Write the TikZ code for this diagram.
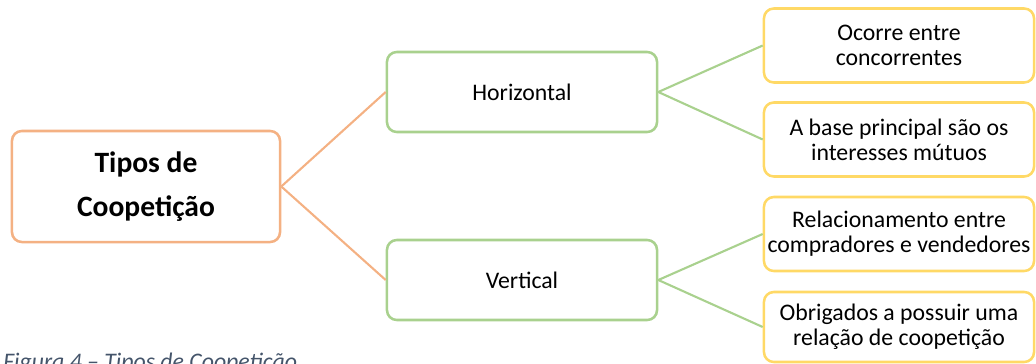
\documentclass[tikz,border=0pt]{standalone}
\usepackage{fontspec}
\setmainfont{Carlito}
\usepackage{xcolor}
\usetikzlibrary{positioning}
\definecolor{orangeline}{HTML}{F4B183}
\definecolor{greenline}{HTML}{A9D18E}
\definecolor{yellowline}{HTML}{FFD966}
\definecolor{captiongrey}{HTML}{44546A}

\begin{document}
\begin{tikzpicture}[x=0.025cm,y=0.025cm,
    rootbox/.style={draw=orangeline, line width=1.8pt, rounded corners=7pt, fill=white,
      minimum width=6.7cm, minimum height=2.775cm, align=center,
      font=\fontsize{21}{31}\selectfont\bfseries},
    typebox/.style={draw=greenline, line width=1.8pt, rounded corners=7pt, fill=white,
      minimum width=6.75cm, minimum height=2cm, align=center,
      font=\fontsize{16.9}{18}\selectfont},
    notebox/.style={draw=yellowline, line width=1.8pt, rounded corners=7pt, fill=white,
      minimum width=6.75cm, minimum height=1.85cm, inner sep=1pt, align=center,
      font=\fontsize{16.9}{17.8}\selectfont},
    rootlink/.style={orangeline, line width=1.5pt},
    typelink/.style={greenline, line width=1.5pt}]
      \useasboundingbox (0,0) rectangle (1036,363);
      \node[rootbox] (tipos) at (146,176.5) {Tipos de\\Coopetição};
      \node[typebox] (horiz) at (522,271) {Horizontal};
      \node[typebox] (vert) at (522,83) {Vertical};
      \node[notebox] (ocorre) at (899,317.5) {Ocorre entre\\concorrentes};
      \node[notebox] (base) at (899,223.5) {A base principal são os\\interesses mútuos};
      \node[notebox] (relac) at (899,129) {Relacionamento entre\\compradores e vendedores};
      \node[notebox, minimum height=1.75cm] (obrig) at (899,36) {Obrigados a possuir uma\\relação de coopetição};
      \draw[rootlink] (tipos.east)--(horiz.west);
      \draw[rootlink] (tipos.east)--(vert.west);
      \draw[typelink] (horiz.east)--(ocorre.west);
      \draw[typelink] (horiz.east)--(base.west);
      \draw[typelink] (vert.east)--(relac.west);
      \draw[typelink] (vert.east)--(obrig.west);
      \node[anchor=base west, inner sep=0pt, text=captiongrey,
        font=\fontsize{16.9}{18}\selectfont\itshape] (legenda) at (3,-6) {Figura 4 -- Tipos de Coopetição};
    \end{tikzpicture}
\end{document}
